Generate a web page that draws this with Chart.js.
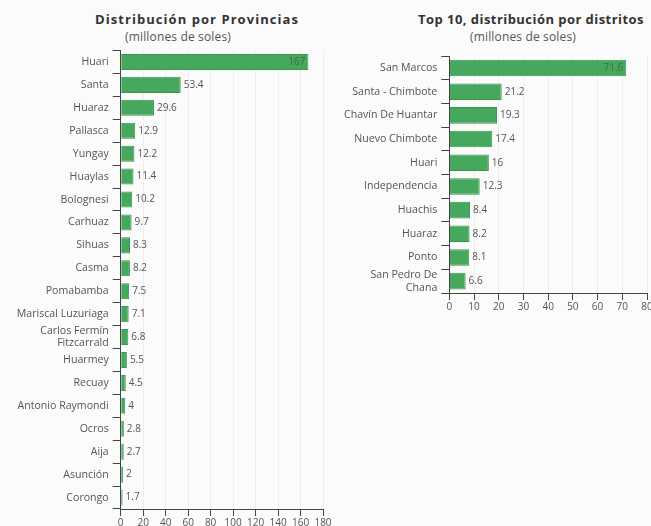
<!DOCTYPE html>
<html>
<head>
<meta charset="utf-8">
<script src="https://cdn.jsdelivr.net/npm/chart.js@4.4.1/dist/chart.umd.min.js"></script>
<style>
  html, body {
    margin: 0;
    padding: 0;
    width: 651px;
    height: 526px;
    overflow: hidden;
    background: #fbfbfb;
    font-family: "Open Sans", sans-serif;
  }
  .title, .sub {
    position: absolute;
    text-align: center;
    white-space: nowrap;
  }
  .title { color: #333; font-size: 13px; font-weight: 700; }
  .sub { color: #555; font-size: 12px; letter-spacing: 0.15px; }
  canvas { position: absolute; top: 0; }
</style>
</head>
<body>
<div class="title" style="left:57px; width:280px; top:10px; letter-spacing:1.05px;">Distribución por Provincias</div>
<div class="sub" style="left:38px; width:280px; top:28px;">(millones de soles)</div>
<div class="title" style="left:386px; width:290px; top:10px; letter-spacing:0.45px;">Top 10, distribución por distritos</div>
<div class="sub" style="left:378px; width:290px; top:28px;">(millones de soles)</div>
<div style="position:absolute; left:0; top:0; width:340px; height:534px;"><canvas id="provincias"></canvas></div>
<div style="position:absolute; left:330px; top:0; width:331px; height:318px;"><canvas id="distritos"></canvas></div>

<script>
const provinceLabels = [
  "Huari", "Santa", "Huaraz", "Pallasca", "Yungay", "Huaylas", "Bolognesi",
  "Carhuaz", "Sihuas", "Casma", "Pomabamba", "Mariscal Luzuriaga",
  ["Carlos Fermín", "Fitzcarrald"], "Huarmey", "Recuay", "Antonio Raymondi",
  "Ocros", "Aija", "Asunción", "Corongo"
];
const provinceValues = [167, 53.4, 29.6, 12.9, 12.2, 11.4, 10.2, 9.7, 8.3, 8.2, 7.5, 7.1, 6.8, 5.5, 4.5, 4, 2.8, 2.7, 2, 1.7];

const districtLabels = [
  "San Marcos", "Santa - Chimbote", "Chavín De Huantar", "Nuevo Chimbote",
  "Huari", "Independencia", "Huachis", "Huaraz", "Ponto", ["San Pedro De", "Chana"]
];
const districtValues = [71.6, 21.2, 19.3, 17.4, 16, 12.3, 8.4, 8.2, 8.1, 6.6];

const barColor = "#46a85d";
const barBorder = "#3b9650";
const textColor = "#555";

Chart.defaults.font.family = "'Open Sans', sans-serif";
Chart.defaults.color = textColor;

// value labels at the end of each bar, inside when it would not fit
const valueLabels = {
  id: "valueLabels",
  afterDatasetsDraw(chart) {
    const ctx = chart.ctx;
    const meta = chart.getDatasetMeta(0);
    const values = chart.data.datasets[0].data;
    ctx.save();
    ctx.font = "10px 'Open Sans', sans-serif";
    ctx.textBaseline = "middle";
    meta.data.forEach((bar, i) => {
      const text = String(values[i]);
      const width = ctx.measureText(text).width;
      if (bar.x + width + 4 > chart.chartArea.right) {
        ctx.fillStyle = "#3d6b48";
        ctx.textAlign = "right";
        ctx.fillText(text, bar.x - 3, bar.y);
      } else {
        ctx.fillStyle = textColor;
        ctx.textAlign = "left";
        ctx.fillText(text, bar.x + 3, bar.y);
      }
    });
    ctx.restore();
  }
};

function makeChart(canvasId, labels, values, max, step, axisWidth, padding) {
  return new Chart(document.getElementById(canvasId), {
    type: "bar",
    data: {
      labels: labels,
      datasets: [{
        data: values,
        backgroundColor: barColor,
        borderColor: barBorder,
        borderWidth: 1,
        barPercentage: 0.7,
        categoryPercentage: 1
      }]
    },
    options: {
      indexAxis: "y",
      responsive: true,
      maintainAspectRatio: false,
      animation: false,
      layout: { padding: padding },
      plugins: {
        legend: { display: false },
        tooltip: { enabled: false }
      },
      scales: {
        x: {
          min: 0,
          max: max,
          ticks: {
            stepSize: step, color: textColor, font: { size: 10 }, padding: 1,
            autoSkip: false, maxRotation: 0, minRotation: 0
          },
          grid: { color: "rgba(0,0,0,0.05)", tickColor: "#444", tickLength: 7 },
          border: { display: true, color: "#444" },
          afterFit(scale) { scale.height = 25; }
        },
        y: {
          ticks: { color: textColor, font: { size: 10.6, lineHeight: 1.2 }, padding: 4, autoSkip: false },
          grid: { drawOnChartArea: false, tickColor: "#444", tickLength: 8 },
          border: { display: true, color: "#444" },
          afterFit(scale) { scale.width = axisWidth; }
        }
      }
    },
    plugins: [valueLabels]
  });
}

makeChart("provincias", provinceLabels, provinceValues, 180, 20, 120.7,
  { top: 50.5, right: 17, left: 0, bottom: 0 });
makeChart("distritos", districtLabels, districtValues, 80, 10, 119.3,
  { top: 56.2, right: 14, left: 0, bottom: 0 });
</script>
</body>
</html>
